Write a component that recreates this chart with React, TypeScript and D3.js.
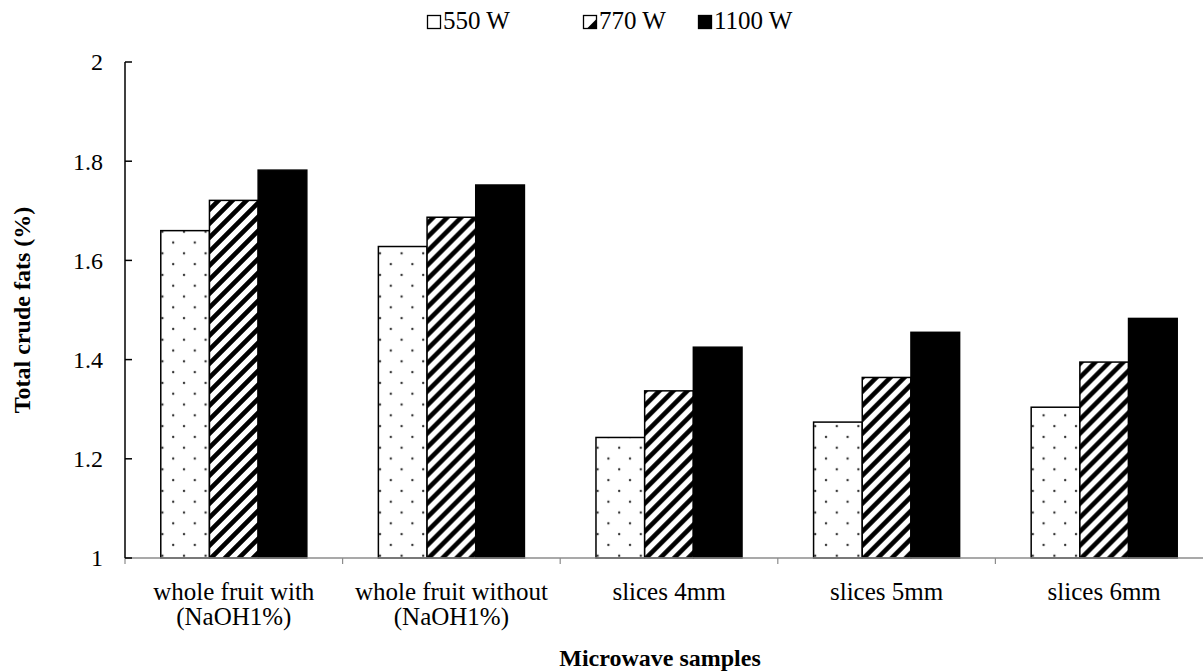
import React from 'react';
import * as d3 from 'd3';

// Sample groups (two-line axis labels) and microwave power levels
const categories = [
  'whole fruit with (NaOH1%)',
  'whole fruit without (NaOH1%)',
  'slices 4mm',
  'slices 5mm',
  'slices 6mm',
];
const categoryLines = [
  ['whole fruit with', '(NaOH1%)'],
  ['whole fruit without', '(NaOH1%)'],
  ['slices 4mm'],
  ['slices 5mm'],
  ['slices 6mm'],
];
const series = ['550 W', '770 W', '1100 W'];

// Total crude fats (%) per sample
const values550 = [1.66, 1.628, 1.243, 1.274, 1.304];
const values770 = [1.721, 1.687, 1.337, 1.364, 1.395];
const values1100 = [1.782, 1.752, 1.425, 1.455, 1.483];
const seriesValues = [values550, values770, values1100];

const yTicks = [1, 1.2, 1.4, 1.6, 1.8, 2];

const W = 1203;
const H = 671;
const FONT = '"Liberation Serif", "Times New Roman", serif';

export default function App() {
  const y = d3.scaleLinear().domain([1, 2]).range([558, 62]);
  const x0 = d3.scaleBand<string>().domain(categories).range([125, 1213]).padding(0);
  const x1 = d3
    .scaleBand<string>()
    .domain(series)
    .range([0, x0.bandwidth()])
    .paddingInner(0)
    .paddingOuter(0.735);

  const fills = ['url(#dots)', 'url(#stripes)', '#000'];
  const boundaries = categories.map((c) => x0(c)!);
  const fmt = d3.format('~g');

  return (
    <svg
      width={W}
      height={H}
      viewBox={`0 0 ${W} ${H}`}
      style={{ position: 'absolute', left: 0, top: 0, background: '#fff' }}
      fontFamily={FONT}
    >
      <defs>
        <pattern id="dots" width={21.6} height={21.6} patternUnits="userSpaceOnUse">
          <rect width={21.6} height={21.6} fill="#fff" />
          <circle cx={5} cy={5} r={1.2} fill="#333" />
          <circle cx={15.8} cy={15.8} r={1.2} fill="#333" />
        </pattern>
        <pattern id="stripes" width={14} height={14} patternUnits="userSpaceOnUse">
          <rect width={14} height={14} fill="#fff" />
          <path
            d="M-3.5,3.5 L3.5,-3.5 M0,14 L14,0 M10.5,17.5 L17.5,10.5"
            stroke="#000"
            strokeWidth={4.6}
          />
        </pattern>
      </defs>

      {/* bars */}
      {categories.map((c, i) => (
        <g key={c} transform={`translate(${x0(c)},0)`}>
          {series.map((s, j) => {
            const v = seriesValues[j][i];
            return (
              <rect
                key={s}
                x={x1(s)}
                y={y(v)}
                width={x1.bandwidth()}
                height={y(1) - y(v)}
                fill={fills[j]}
                stroke="#000"
                strokeWidth={1.5}
              />
            );
          })}
        </g>
      ))}

      {/* x axis */}
      <line x1={125} x2={1213} y1={y(1)} y2={y(1)} stroke="#8c8c8c" strokeWidth={1.5} />
      {boundaries.map((bx, i) => (
        <line key={i} x1={bx} x2={bx} y1={y(1)} y2={y(1) + 6} stroke="#8c8c8c" strokeWidth={1.2} />
      ))}
      {categories.map((c, i) => (
        <text
          key={c}
          x={x0(c)! + x0.bandwidth() / 2}
          y={600}
          textAnchor="middle"
          fontSize={25}
          fill="#000"
        >
          {categoryLines[i].map((ln, k) => (
            <tspan key={k} x={x0(c)! + x0.bandwidth() / 2} dy={k === 0 ? 0 : 25}>
              {ln}
            </tspan>
          ))}
        </text>
      ))}

      {/* y axis */}
      <line x1={125} x2={125} y1={y(2)} y2={y(1)} stroke="#000" strokeWidth={1.5} />
      {yTicks.map((t) => (
        <g key={t}>
          <line x1={125} x2={132} y1={y(t)} y2={y(t)} stroke="#000" strokeWidth={1.5} />
          <text x={103} y={y(t)} dy="0.35em" textAnchor="end" fontSize={24} fill="#000">
            {fmt(t)}
          </text>
        </g>
      ))}

      {/* axis titles */}
      <text
        transform={`translate(30,${(y(1) + y(2)) / 2}) rotate(-90)`}
        textAnchor="middle"
        fontSize={24}
        fontWeight="bold"
        fill="#000"
      >
        Total crude fats (%)
      </text>
      <text x={660} y={666} textAnchor="middle" fontSize={24} fontWeight="bold" fill="#000">
        Microwave samples
      </text>

      {/* legend */}
      <g>
        {series.map((s, j) => {
          const lx = [427, 583, 698][j];
          return (
            <g key={s} transform={`translate(${lx},15)`}>
              <rect x={0.5} y={0.5} width={13} height={13} fill={j === 2 ? '#000' : '#fff'} stroke="#000" strokeWidth={1.3} />
              {j === 1 && <path d="M13.5,4 L13.5,13.5 L4,13.5 Z" fill="#000" />}
              <text x={16} y={14} fontSize={25} fill="#000">
                {s}
              </text>
            </g>
          );
        })}
      </g>
    </svg>
  );
}
